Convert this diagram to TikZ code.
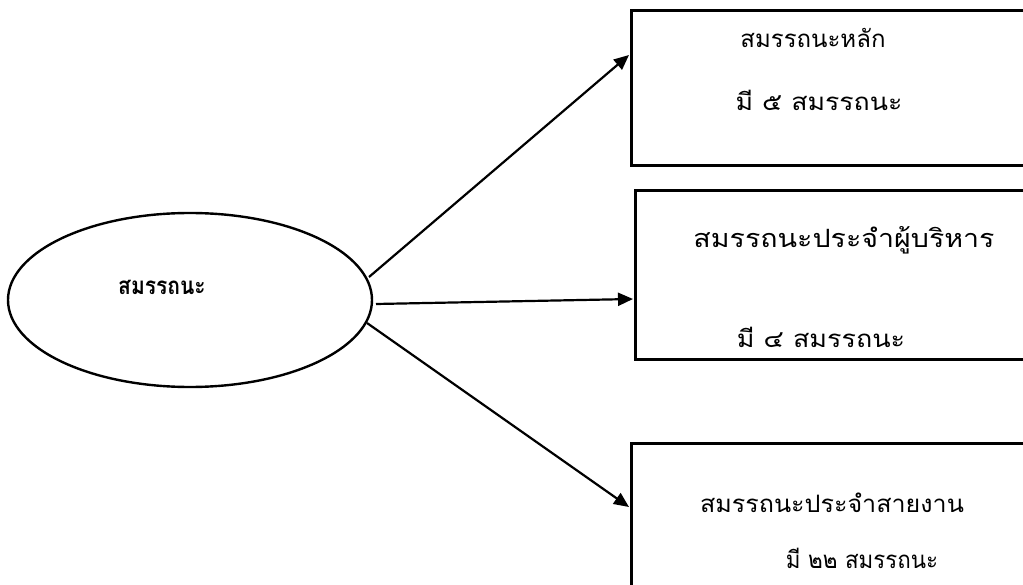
\documentclass[tikz,border=0pt]{standalone}
\usepackage{fontspec}
\usepackage{graphicx}
\newfontfamily\thai[Script=Thai]{Loma}
\usetikzlibrary{shapes.geometric,arrows.meta}
\begin{document}
\begin{tikzpicture}[x=1pt,y=-1pt,
  boxst/.style={draw,line width=2.8pt,rectangle,inner sep=0pt,anchor=north west},
  txt/.style={font=\thai\fontsize{24}{28}\selectfont,inner sep=0pt},
  arr/.style={line width=2.2pt,-{Triangle[length=15pt,width=13pt]}}]
\useasboundingbox (0,0) rectangle (1023,585);
\clip (0,0) rectangle (1023,585);
\node[draw,ellipse,line width=2.4pt,minimum width=364pt,minimum height=174pt,inner sep=0pt] (ell) at (190,300) {};
\node[txt,font=\thai\bfseries\fontsize{21}{25}\selectfont] (lab) at (162,287) {\scalebox{1}[1.15]{สมรรถนะ}};
\node[boxst,minimum width=410pt,minimum height=155pt] (b1) at (630,9) {};
\node[boxst,minimum width=410pt,minimum height=169pt] (b2) at (634,189) {};
\node[boxst,minimum width=410pt,minimum height=170pt] (b3) at (630,442) {};
\node[txt] (t1a) at (813,38) {สมรรถนะหลัก};
\node[txt] (t1b) at (819,100) {\scalebox{1.11}[1]{มี ๕ สมรรถนะ}};
\node[txt] (t2a) at (844,240) {\scalebox{1.19}[1.05]{สมรรถนะประจำผู้บริหาร}};
\node[txt] (t2b) at (821,337) {\scalebox{1.12}[1]{มี ๔ สมรรถนะ}};
\node[txt] (t3a) at (832,503) {\scalebox{1.045}[1]{สมรรถนะประจำสายงาน}};
\node[txt] (t3b) at (862,558) {\scalebox{0.93}[1]{มี ๒๒ สมรรถนะ}};
\coordinate (s1) at (369,277);
\coordinate (s2) at (376,304);
\coordinate (s3) at (367,323);
\coordinate (e1) at (629,55);
\coordinate (e2) at (633,299);
\coordinate (e3) at (629,507);
\draw[arr] (s1) -- (e1);
\draw[arr] (s2) -- (e2);
\draw[arr] (s3) -- (e3);
\end{tikzpicture}
\end{document}
